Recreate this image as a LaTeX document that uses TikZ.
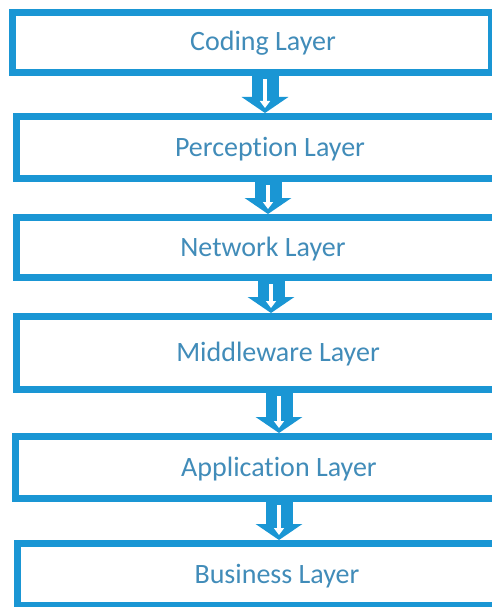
\documentclass[tikz,border=0pt]{standalone}
\usepackage{fontspec}
\setmainfont{Carlito}[Ligatures=NoCommon]
\usetikzlibrary{positioning,arrows.meta}
\definecolor{layerblue}{RGB}{26,150,212}
\definecolor{layertext}{RGB}{65,140,185}
\tikzset{
  layer/.style={draw=layerblue,line width=7pt,fill=white,text=layertext,
    font=\fontsize{28}{32}\selectfont,inner sep=0pt,
    text height=20pt,text depth=3pt},
  flow/.style={draw=layerblue,line width=27pt,-{Triangle[width=46pt,length=16pt]}},
  flowin/.style={draw=white,line width=4pt,shorten <=3pt,shorten >=5pt,
    -{Triangle[width=10pt,length=7pt]}},
}

\begin{document}
\begin{tikzpicture}[x=1pt,y=1pt]
  \useasboundingbox[fill=white] (0,0) rectangle (491,-607);
  \node[layer,minimum width=479pt,minimum height=60pt] (c1) at (252,-42.5) {\hspace*{22pt}Coding Layer};
  \node[layer,minimum width=507pt,minimum height=62pt] (c2) [below=37pt of c1,xshift=18pt] {Perception Layer};
  \node[layer,minimum width=493pt,minimum height=60pt] (c3) [below=32pt of c2,xshift=-7pt] {Network Layer};
  \node[layer,minimum width=523pt,minimum height=73pt] (c4) [below=32pt of c3,xshift=15pt] {Middleware Layer};
  \node[layer,minimum width=527pt,minimum height=62pt] (c5) [below=40pt of c4,xshift=1pt] {Application Layer};
  \node[layer,minimum width=519pt,minimum height=62pt] (c6) [below=38pt of c5,xshift=-2pt] {Business Layer};
  % arrow columns
  \coordinate (ax1) at (265,0);
  \coordinate (ax2) at (268,0);
  \coordinate (ax3) at (271,0);
  \coordinate (ax4) at (279,0);
  \coordinate (ax5) at (279,0);
  \draw[flow] (c1.south -| ax1) -- (c2.north -| ax1);
  \draw[flow] (c2.south -| ax2) -- (c3.north -| ax2);
  \draw[flow] (c3.south -| ax3) -- (c4.north -| ax3);
  \draw[flow] (c4.south -| ax4) -- (c5.north -| ax4);
  \draw[flow] (c5.south -| ax5) -- (c6.north -| ax5);
  \draw[flowin] (c1.south -| ax1) -- (c2.north -| ax1);
  \draw[flowin] (c2.south -| ax2) -- (c3.north -| ax2);
  \draw[flowin] (c3.south -| ax3) -- (c4.north -| ax3);
  \draw[flowin] (c4.south -| ax4) -- (c5.north -| ax4);
  \draw[flowin] (c5.south -| ax5) -- (c6.north -| ax5);
\end{tikzpicture}
\end{document}
